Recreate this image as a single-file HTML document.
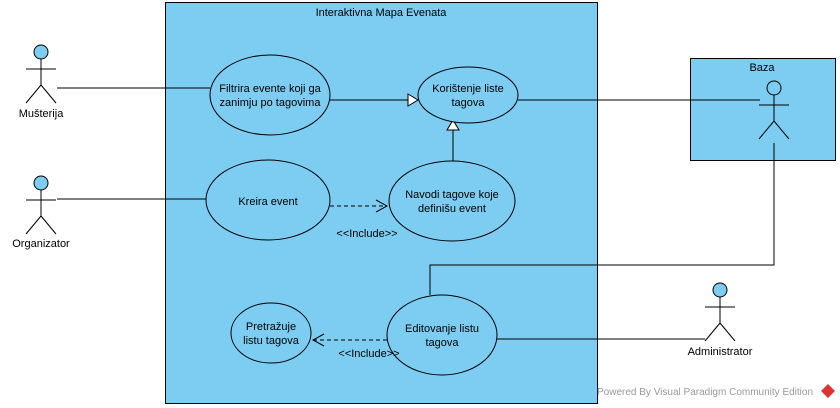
<!DOCTYPE html>
<html><head><meta charset="utf-8"><style>body{margin:0;background:#fff}svg{display:block}text{font-family:"Liberation Sans",sans-serif;font-size:11px;fill:#000}</style></head><body>
<svg width="840" height="408" viewBox="0 0 840 408">
<rect x="165.5" y="2.5" width="432" height="401" fill="#7dcdf2" stroke="#000"/>
<text x="381" y="16" text-anchor="middle">Interaktivna Mapa Evenata</text>
<rect x="690.5" y="58.5" width="145" height="102" fill="#7dcdf2" stroke="#000"/>
<text x="762" y="71" text-anchor="middle">Baza</text>
<g stroke="#000" fill="none">
<line x1="57" y1="88" x2="210" y2="88"/>
<line x1="330" y1="100" x2="408" y2="100"/>
<line x1="453" y1="161" x2="453" y2="130"/>
<line x1="518" y1="100" x2="760" y2="100"/>
<line x1="57" y1="199" x2="206" y2="199"/>
<line x1="330" y1="206" x2="387" y2="206" stroke-dasharray="4,3"/>
<polyline points="376,200 387,206 376,212"/>
<polyline points="430,295 430,265 774,265 774,143"/>
<line x1="497" y1="339" x2="705" y2="339"/>
<line x1="387" y1="340" x2="313" y2="340" stroke-dasharray="4,3"/>
<polyline points="324,334 313,340 324,346"/>
</g>
<polygon points="408,94 418,100 408,106" fill="#fff" stroke="#000"/>
<polygon points="447,130 453,120 459,130" fill="#fff" stroke="#000"/>
<g fill="#7dcdf2" stroke="#000">
<ellipse cx="270" cy="95" rx="60" ry="40"/>
<ellipse cx="468" cy="95" rx="50" ry="28"/>
<ellipse cx="268" cy="200" rx="62" ry="40"/>
<ellipse cx="452" cy="201" rx="63" ry="40"/>
<ellipse cx="271" cy="333" rx="40" ry="30"/>
<ellipse cx="442" cy="335" rx="55" ry="40"/>
</g>
<g text-anchor="middle">
<text x="270" y="92">Filtrira evente koji ga</text><text x="270" y="106">zanimju po tagovima</text>
<text x="468" y="92">Korištenje liste</text><text x="468" y="106">tagova</text>
<text x="268" y="205">Kreira event</text>
<text x="452" y="198">Navodi tagove koje</text><text x="452" y="212">definišu event</text>
<text x="271" y="330">Pretražuje</text><text x="271" y="344">listu tagova</text>
<text x="442" y="332">Editovanje listu</text><text x="442" y="346">tagova</text>
<text x="367" y="237">&lt;&lt;Include&gt;&gt;</text>
<text x="369" y="357">&lt;&lt;Include&gt;&gt;</text>
</g>
<g stroke="#000" fill="none">
<g transform="translate(41,52)"><circle r="7" fill="#7dcdf2"/><line x1="0" y1="7" x2="0" y2="33"/><line x1="-15" y1="17" x2="15" y2="17"/><line x1="0" y1="33" x2="-15" y2="51"/><line x1="0" y1="33" x2="15" y2="51"/></g>
<g transform="translate(41,183)"><circle r="7" fill="#7dcdf2"/><line x1="0" y1="7" x2="0" y2="33"/><line x1="-15" y1="17" x2="15" y2="17"/><line x1="0" y1="33" x2="-15" y2="51"/><line x1="0" y1="33" x2="15" y2="51"/></g>
<g transform="translate(774,88)"><circle r="7" fill="#7dcdf2"/><line x1="0" y1="7" x2="0" y2="33"/><line x1="-15" y1="17" x2="15" y2="17"/><line x1="0" y1="33" x2="-15" y2="51"/><line x1="0" y1="33" x2="15" y2="51"/></g>
<g transform="translate(720,290)"><circle r="7" fill="#7dcdf2"/><line x1="0" y1="7" x2="0" y2="33"/><line x1="-15" y1="17" x2="15" y2="17"/><line x1="0" y1="33" x2="-15" y2="51"/><line x1="0" y1="33" x2="15" y2="51"/></g>
</g>
<g text-anchor="middle">
<text x="41" y="117">Mušterija</text>
<text x="41" y="247">Organizator</text>
<text x="720" y="355">Administrator</text>
</g>
<text x="597" y="395" style="font-size:10px;fill:#999">Powered By  Visual Paradigm Community Edition</text>
<polygon points="828,384 835,391 828,398 821,391" fill="#d33"/>
</svg>
</body></html>
